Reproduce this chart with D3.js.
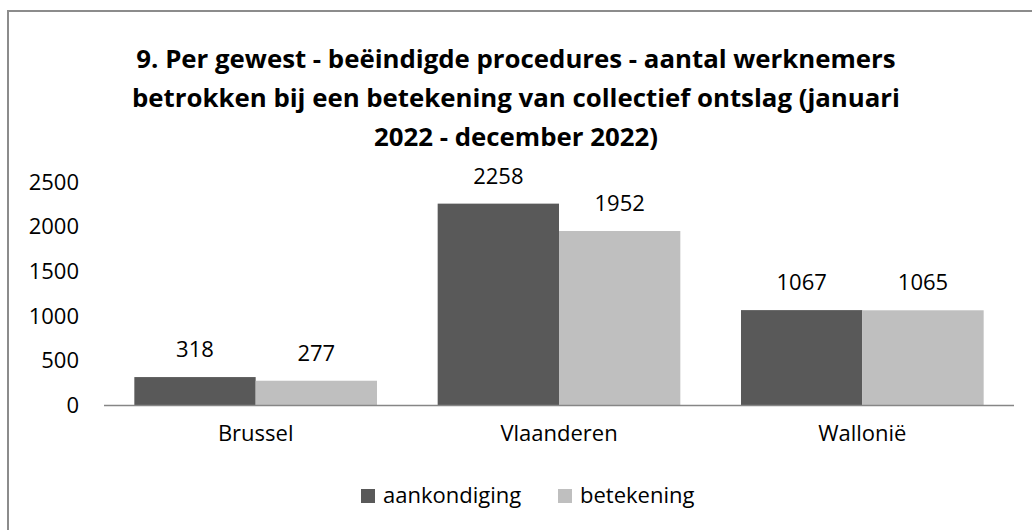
<!DOCTYPE html>
<meta charset="utf-8">
<head>
    <title>Collectief ontslag per gewest</title>
    <script src="https://d3js.org/d3.v7.min.js"></script>
</head>
<body>
<style>
    body {
        margin: 0;
        background-color: #ffffff;
        font-family: "Open Sans", sans-serif;
    }
    .axis text {
        font-family: "Open Sans", sans-serif;
        font-size: 22px;
        fill: #000;
    }
    .label {
        font-size: 22px;
        fill: #000;
        text-anchor: middle;
    }
    .title {
        font-size: 25.8px;
        font-weight: bold;
        text-anchor: middle;
    }
</style>
<svg width="1032" height="530"></svg>
<script>
    var titleLines = [
        "9. Per gewest - beëindigde procedures - aantal werknemers",
        "betrokken bij een betekening van collectief ontslag (januari",
        "2022 - december 2022)"
    ];
    var regions = ["Brussel", "Vlaanderen", "Wallonië"];
    var seriesNames = ["aankondiging", "betekening"];
    var aankondiging = [318, 2258, 1067];
    var betekening = [277, 1952, 1065];
    var yTicks = [0, 500, 1000, 1500, 2000, 2500];
    var colors = ["#595959", "#bfbfbf"];

    var svg = d3.select("svg");

    // chart frame
    svg.append("rect")
        .attr("x", 8).attr("y", 11)
        .attr("width", 1040).attr("height", 540)
        .attr("fill", "none")
        .attr("stroke", "#8c8c8c")
        .attr("stroke-width", 2);

    svg.selectAll(".title")
        .data(titleLines)
        .enter().append("text")
        .attr("class", "title")
        .attr("x", 516)
        .attr("y", function(d, i) { return 68 + i * 39; })
        .text(function(d) { return d; });

    var x0 = d3.scaleBand().domain(regions).range([104, 1014])
        .paddingInner(0.2).paddingOuter(0.1);
    var x1 = d3.scaleBand().domain(seriesNames).range([0, x0.bandwidth()]);
    var y = d3.scaleLinear().domain([0, 2500]).range([405.5, 182]);

    var data = regions.map(function(r, i) {
        return {region: r, values: [aankondiging[i], betekening[i]]};
    });

    // y axis labels only
    var yAxis = svg.append("g")
        .attr("class", "axis")
        .attr("transform", "translate(90,0)")
        .call(d3.axisLeft(y).tickValues(yTicks).tickFormat(d3.format("d")).tickSize(0).tickPadding(11));
    yAxis.select(".domain").remove();

    var groups = svg.selectAll(".group")
        .data(data)
        .enter().append("g")
        .attr("class", "group")
        .attr("transform", function(d) { return "translate(" + x0(d.region) + ",0)"; });

    groups.selectAll("rect")
        .data(function(d) { return d.values.map(function(v, i) { return {key: seriesNames[i], value: v, i: i}; }); })
        .enter().append("rect")
        .attr("x", function(d) { return x1(d.key); })
        .attr("width", x1.bandwidth())
        .attr("y", function(d) { return y(d.value); })
        .attr("height", function(d) { return y(0) - y(d.value); })
        .attr("fill", function(d) { return colors[d.i]; });

    groups.selectAll(".label")
        .data(function(d) { return d.values.map(function(v, i) { return {key: seriesNames[i], value: v}; }); })
        .enter().append("text")
        .attr("class", "label")
        .attr("x", function(d) { return x1(d.key) + x1.bandwidth() / 2; })
        .attr("y", function(d) { return y(d.value) - 20; })
        .text(function(d) { return d.value; });

    // category axis
    var xAxis = svg.append("g")
        .attr("class", "axis")
        .attr("transform", "translate(0," + y(0) + ")")
        .call(d3.axisBottom(x0).tickSize(0).tickPadding(20).tickSizeOuter(0));
    xAxis.select(".domain")
        .attr("stroke", "#868686")
        .attr("stroke-width", 1.5)
        .attr("d", "M104,0H1014");
    xAxis.selectAll("text").attr("dy", "0.71em");

    // legend
    var legendX = [361, 558];
    var legend = svg.selectAll(".legend")
        .data(seriesNames)
        .enter().append("g")
        .attr("class", "legend")
        .attr("transform", function(d, i) { return "translate(" + legendX[i] + ",489)"; });
    legend.append("rect")
        .attr("width", 14).attr("height", 14)
        .attr("fill", function(d, i) { return colors[i]; });
    legend.append("text")
        .attr("x", 22).attr("y", 14)
        .style("font-size", "22px")
        .text(function(d) { return d; });
</script>
</body>
